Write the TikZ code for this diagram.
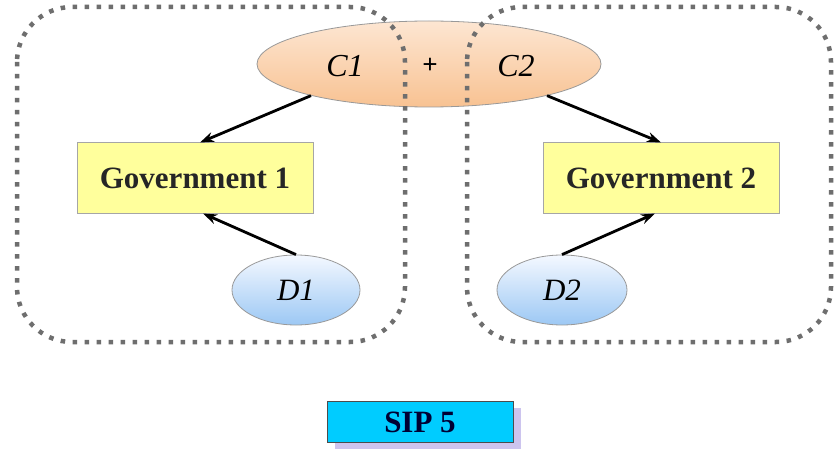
\documentclass[tikz,border=0pt]{standalone}
\usepackage{fontspec}
\setmainfont{Liberation Serif}
\usetikzlibrary{shapes.geometric,arrows.meta,calc,shadows}
\definecolor{govfill}{HTML}{FFFF9C}
\definecolor{sipfill}{HTML}{00CCFF}
\definecolor{dotgray}{HTML}{6E6E6E}
\definecolor{peachtop}{HTML}{FDE6D2}
\definecolor{peachbot}{HTML}{F8C292}
\definecolor{bluetop}{HTML}{F4F8FF}
\definecolor{bluebot}{HTML}{9CC8F4}
\definecolor{shadowlav}{HTML}{CCC4EE}
\tikzset{
  govbox/.style={draw=gray!70, line width=1pt, fill=govfill, minimum width=236pt, minimum height=70pt, inner sep=0pt, font=\fontsize{31}{32}\selectfont\bfseries, text=black!85},
  cell/.style={ellipse, draw=gray!80, line width=0.8pt, inner sep=0pt},
  dotbox/.style={draw=dotgray, line width=4.5pt, dash pattern=on 4.5pt off 7.5pt, rounded corners=55pt},
  arr/.style={line width=2.8pt, -{Stealth[length=14pt,width=10pt]}},
}
\begin{document}
\begin{tikzpicture}[x=1pt,y=-1pt]
\useasboundingbox (0,0) rectangle (837,457);
\fill[white] (0,0) rectangle (837,457);
\node[cell, minimum width=344pt, minimum height=86pt, top color=peachtop, bottom color=peachbot] (C) at (429,64) {};
\node[font=\fontsize{32}{33}\selectfont\itshape] (c1) at (345,66) {C1};
\node[font=\fontsize{27}{30}\selectfont\bfseries] (plus) at (430,66) {+};
\node[font=\fontsize{32}{33}\selectfont\itshape] (c2) at (516,66) {C2};
\node[govbox] (g1) at (195,178) {Government 1};
\node[govbox] (g2) at (661,178) {Government 2};
\node[cell, minimum width=128pt, minimum height=70pt, top color=bluetop, bottom color=bluebot, font=\fontsize{31}{32}\selectfont\itshape] (d1) at (296,290) {D1};
\node[cell, minimum width=130pt, minimum height=70pt, top color=bluetop, bottom color=bluebot, font=\fontsize{31}{32}\selectfont\itshape] (d2) at (562,290) {D2};
\node[draw=black!70, line width=1pt, fill=sipfill, minimum width=186pt, minimum height=41pt, inner sep=0pt, text=black!80!blue, font=\fontsize{31}{32}\selectfont\bfseries, drop shadow={shadow xshift=8pt, shadow yshift=-6pt, fill=shadowlav, opacity=1}] (sip) at (420,422) {SIP 5};
\draw[dotbox] (17,7) rectangle (405,342);
\draw[dotbox] (467,7) rectangle (831,342);
\draw[arr] (C.195) -- ($(g1.north)+(5,0)$);
\draw[arr] (C.-15) -- (g2.north);
\draw[arr] (d1.north) -- ($(g1.south)+(8,0)$);
\draw[arr] (d2.north) -- ($(g2.south)+(-6,0)$);
\end{tikzpicture}
\end{document}
